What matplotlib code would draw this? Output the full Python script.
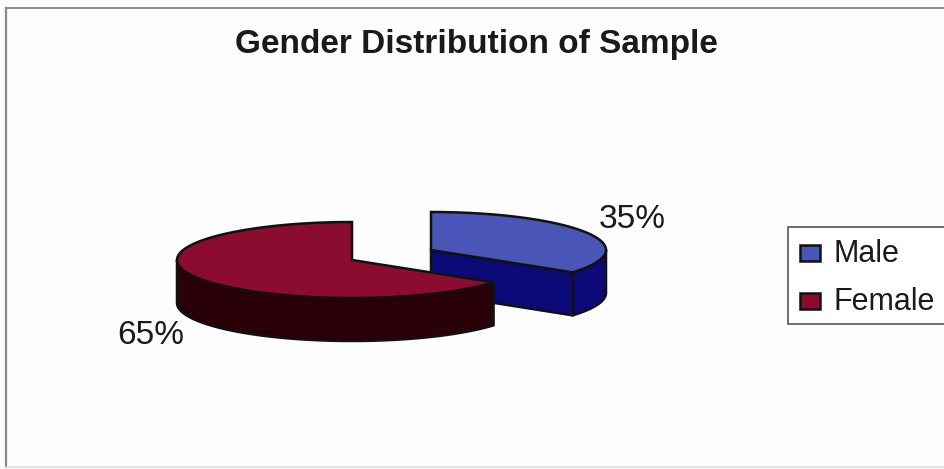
import numpy as np
import matplotlib.pyplot as plt
from matplotlib.patches import Polygon, Rectangle

plt.rcParams['font.family'] = ['Liberation Sans', 'DejaVu Sans']

# Sample data
genders = ["Male", "Female"]
shares = [35, 65]
share_labels = ["35%", "65%"]
title = "Gender Distribution of Sample"

# Colours for the top and the side of each wedge
top_colors = ["#4a55b8", "#8c0b30"]
side_colors = ["#0c0a78", "#2a0008"]

# Pie geometry in pixels
rx = 175
ry = 38
depth = 43
centers = [(431, 250), (352, 260)]
edge = "#111111"
edge_w = 1.8


def rim(cx, cy, a0, a1, drop=0):
    # Points along the ellipse, angles clockwise from 12 o'clock
    t = np.radians(np.linspace(a0, a1, 90))
    return np.column_stack([cx + rx * np.sin(t), cy - ry * np.cos(t) + drop])


def draw_side(ax, cx, cy, a0, a1, color):
    top = rim(cx, cy, a0, a1)
    bottom = rim(cx, cy, a0, a1, depth)
    ax.add_patch(Polygon(np.vstack([top, bottom[::-1]]), closed=True, facecolor=color,
                         edgecolor=edge, linewidth=edge_w, joinstyle="round"))


fig = plt.figure(figsize=(9.45, 4.69), dpi=100, facecolor="#fdfdfd")
ax = fig.add_axes([0, 0, 1, 1])
ax.set_xlim(0, 945)
ax.set_ylim(469, 0)
ax.axis("off")

# Chart frame, the bottom line is much fainter than the others
ax.plot([6, 6], [8, 467], color="#8a8a8a", linewidth=1.6)
ax.plot([6, 945], [8, 8], color="#8a8a8a", linewidth=1.4)
ax.plot([6, 945], [467, 467], color="#dedede", linewidth=1.2)

# Wedge angles come from the shares
cuts = np.cumsum([0] + shares) * 3.6

# Male wedge: cut face, outer side, then top
cx, cy = centers[0]
a0, a1 = cuts[0], cuts[1]
end = rim(cx, cy, a1, a1)[0]
cut_face = [(cx, cy), tuple(end), (end[0], end[1] + depth), (cx, cy + depth)]
ax.add_patch(Polygon(cut_face, closed=True, facecolor=side_colors[0], edgecolor=edge, linewidth=edge_w))
draw_side(ax, cx, cy, 90, a1, side_colors[0])
male_top = np.vstack([[(cx, cy)], rim(cx, cy, a0, a1)])
ax.add_patch(Polygon(male_top, closed=True, facecolor=top_colors[0], edgecolor=edge, linewidth=edge_w))

# Female wedge sits in front of the male one
cx, cy = centers[1]
a0, a1 = cuts[1], cuts[2]
draw_side(ax, cx, cy, a0, 270, side_colors[1])
female_top = np.vstack([[(cx, cy)], rim(cx, cy, a0, a1)])
ax.add_patch(Polygon(female_top, closed=True, facecolor=top_colors[1], edgecolor=edge, linewidth=edge_w))

# Title and percentage labels
ax.text(476, 44, title, fontsize=24, fontweight="bold", color="#1a1a1a", ha="center", va="center")
ax.text(632, 219, share_labels[0], fontsize=24, color="#1a1a1a", ha="center", va="center")
ax.text(151, 335, share_labels[1], fontsize=24, color="#1a1a1a", ha="center", va="center")

# Legend box
ax.add_patch(Rectangle((788, 227), 160, 97, facecolor="white", edgecolor="#555555", linewidth=1.2))
for i, name in enumerate(genders):
    y = 253.5 + i * 48
    ax.add_patch(Rectangle((800, y - 8), 20, 16, facecolor=top_colors[i], edgecolor=edge, linewidth=1.8))
    ax.text(833, y, name, fontsize=22, color="#1a1a1a", ha="left", va="center")

fig.savefig("out.png", dpi=100, facecolor=fig.get_facecolor())
